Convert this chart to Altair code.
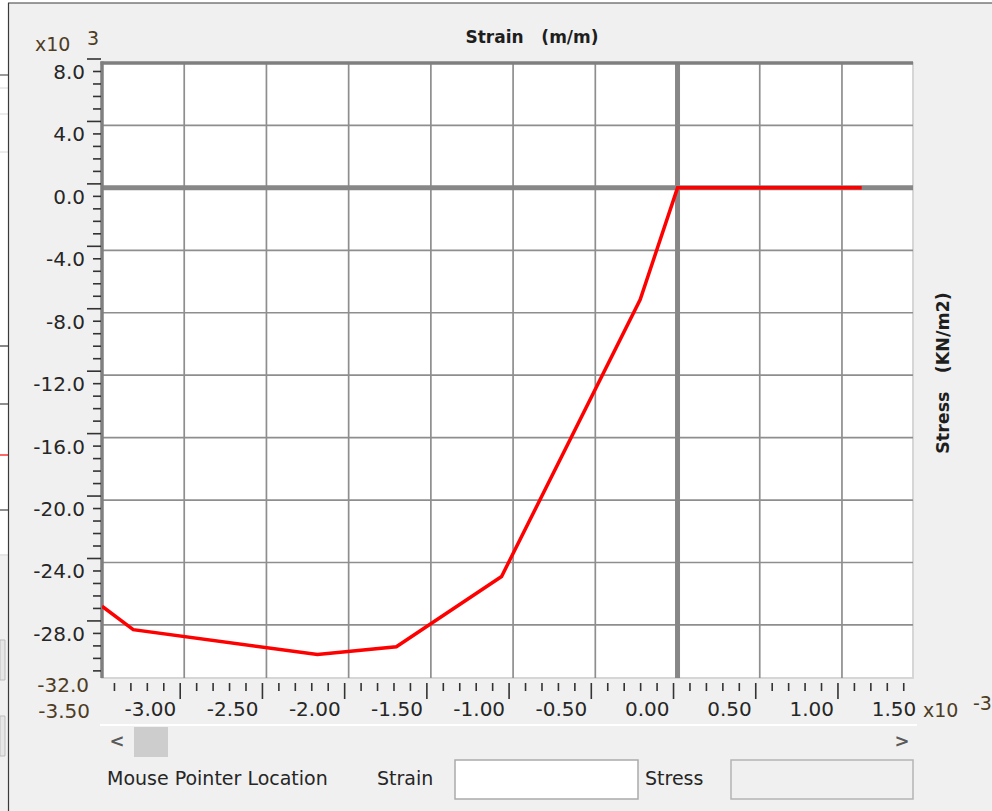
import altair as alt
import numpy as np
import pandas as pd

FONT = "DejaVu Sans"
TXT = "#262626"
TINT = "#4e3c24"
LABEL_SIZE = 20
UI_SIZE = 19

# Stress-strain curve: strain (x10^-3 m/m) vs stress (x10^3 KN/m2)
strain = [-3.50, -3.31, -2.19, -1.71, -1.07, -0.227, 0.00, 1.12]
stress = [-26.8, -28.3, -29.9, -29.4, -24.9, -7.15, 0.0, 0.0]

# grid and tick labels
x_grid = [-3.0, -2.5, -2.0, -1.5, -1.0, -0.5, 0.5, 1.0]
y_grid = [4.0, -4.0, -8.0, -12.0, -16.0, -20.0, -24.0, -28.0]
x_label_values = [-3.0, -2.5, -2.0, -1.5, -1.0, -0.5, 0.0, 0.5, 1.0, 1.5]
x_label_text = ["-3.00", "-2.50", "-2.00", "-1.50", "-1.00", "-0.50",
                "0.00", "0.50", "1.00", "1.50"]
y_label_values = [8.0, 4.0, 0.0, -4.0, -8.0, -12.0, -16.0, -20.0, -24.0, -28.0]
y_label_text = ["8.0", "4.0", "0.0", "-4.0", "-8.0", "-12.0", "-16.0",
                "-20.0", "-24.0", "-28.0"]

# ruler ticks: 0.1 steps along strain, 0.8 steps along stress
x_ticks = np.round(np.arange(-3.4, 1.45, 0.1), 1)
x_major = [v for v in x_ticks if abs(v * 2 - round(v * 2)) < 1e-6]
x_minor = [v for v in x_ticks if abs(v * 2 - round(v * 2)) >= 1e-6]
y_ticks = np.round(np.arange(8.0, -31.5, -0.8), 1)
y_major = [v for v in y_ticks if abs(v / 4 - round(v / 4)) < 1e-6]
y_minor = [v for v in y_ticks if abs(v / 4 - round(v / 4)) >= 1e-6]

W, H = 811, 615
LEFT, TOP = 102, 63

xs = alt.Scale(domain=[-3.5, 1.432], nice=False, zero=False)
ys = alt.Scale(domain=[-31.4, 8.0], nice=False, zero=False)


def X(field="v"):
    return alt.X(f"{field}:Q", scale=xs, axis=None)


def Y(field="v"):
    return alt.Y(f"{field}:Q", scale=ys, axis=None)


def one():
    return pd.DataFrame({"k": [0]})


def ui_text(text, x, y, size=UI_SIZE, weight="normal", align="left", color=TXT, angle=0):
    return alt.Chart(pd.DataFrame({"t": [text]})).mark_text(
        align=align, baseline="middle", font=FONT, fontSize=size,
        fontWeight=weight, color=color, angle=angle
    ).encode(x=alt.value(x - LEFT), y=alt.value(y - TOP), text="t:N")


def ui_rect(x0, y0, x1, y1, fill, stroke=None, sw=0):
    kw = {"fill": fill}
    if stroke:
        kw.update(stroke=stroke, strokeWidth=sw)
    return alt.Chart(one()).mark_rect(**kw).encode(
        x=alt.value(x0 - LEFT), x2=alt.value(x1 - LEFT),
        y=alt.value(y0 - TOP), y2=alt.value(y1 - TOP))


def ui_rule(x0, y0, x1, y1, color, sw):
    return alt.Chart(one()).mark_rule(color=color, strokeWidth=sw).encode(
        x=alt.value(x0 - LEFT), x2=alt.value(x1 - LEFT),
        y=alt.value(y0 - TOP), y2=alt.value(y1 - TOP))


GRID = "#8e8e8e"
THICK = "#878787"

# gridlines
vgrid = alt.Chart(pd.DataFrame({"v": x_grid})).mark_rule(
    color=GRID, strokeWidth=1.7).encode(x=X(), y=alt.value(0), y2=alt.value(H))
hgrid = alt.Chart(pd.DataFrame({"v": y_grid})).mark_rule(
    color=GRID, strokeWidth=1.7).encode(y=Y(), x=alt.value(0), x2=alt.value(W))

# zero axes and frame (top / left)
vzero = alt.Chart(pd.DataFrame({"v": [0.0]})).mark_rule(
    color=THICK, strokeWidth=5).encode(x=X(), y=alt.value(0), y2=alt.value(H))
hzero = alt.Chart(pd.DataFrame({"v": [0.0]})).mark_rule(
    color=THICK, strokeWidth=5).encode(y=Y(), x=alt.value(0), x2=alt.value(W))
top_frame = alt.Chart(pd.DataFrame({"v": [8.0]})).mark_rule(
    color="#7f7f7f", strokeWidth=3.5).encode(y=Y(), x=alt.value(-1.5), x2=alt.value(W))
left_frame = alt.Chart(pd.DataFrame({"v": [-3.5]})).mark_rule(
    color="#7f7f7f", strokeWidth=3.5).encode(x=X(), y=alt.value(-1.5), y2=alt.value(H))

# curve
curve = alt.Chart(pd.DataFrame({"strain": strain, "stress": stress})).mark_line(
    color="#ff0000", strokeWidth=3.5, clip=True
).encode(x=X("strain"), y=Y("stress"), order=alt.Order("strain:Q"))

# ruler ticks
TICK = "#333333"
xt_minor = alt.Chart(pd.DataFrame({"v": x_minor})).mark_rule(
    color=TICK, strokeWidth=1.6, xOffset=-4, x2Offset=-4).encode(
    x=X(), y=alt.value(620), y2=alt.value(628))
xt_major = alt.Chart(pd.DataFrame({"v": x_major})).mark_rule(
    color=TICK, strokeWidth=1.6, xOffset=-4, x2Offset=-4).encode(
    x=X(), y=alt.value(620), y2=alt.value(636))
yt_minor = alt.Chart(pd.DataFrame({"v": y_minor})).mark_rule(
    color=TICK, strokeWidth=1.6, yOffset=-4, y2Offset=-4).encode(
    y=Y(), x=alt.value(-9), x2=alt.value(-1))
yt_major = alt.Chart(pd.DataFrame({"v": y_major})).mark_rule(
    color=TICK, strokeWidth=1.6, yOffset=-4, y2Offset=-4).encode(
    y=Y(), x=alt.value(-15), x2=alt.value(-1))

# tick labels
xlab = alt.Chart(pd.DataFrame({"v": x_label_values, "t": x_label_text})).mark_text(
    align="right", baseline="middle", font=FONT, fontSize=LABEL_SIZE, color=TXT, dx=-8
).encode(x=X(), y=alt.value(647), text="t:N")
ylab = alt.Chart(pd.DataFrame({"v": y_label_values, "t": y_label_text})).mark_text(
    align="right", baseline="middle", font=FONT, fontSize=LABEL_SIZE, color=TXT, dy=10
).encode(y=Y(), x=alt.value(-17), text="t:N")
ymin_lab = alt.Chart(pd.DataFrame({"v": [-32.0], "t": ["-32.0"]})).mark_text(
    align="right", baseline="middle", font=FONT, fontSize=LABEL_SIZE, color=TINT, dy=-1
).encode(y=Y(), x=alt.value(-13), text="t:N")
xmin_lab = alt.Chart(pd.DataFrame({"v": [-3.5], "t": ["-3.50"]})).mark_text(
    align="right", baseline="middle", font=FONT, fontSize=LABEL_SIZE, color=TINT, dx=-12
).encode(x=X(), y=alt.value(649), text="t:N")

layers = [
    # window behind the dialog on the left edge
    ui_rect(0, 0, 992, 3, "#ffffff"),
    ui_rect(0, 0, 8, 556, "#ffffff"),
    ui_rule(0, 75, 8, 75, "#555555", 1.2),
    ui_rule(0, 88, 8, 88, "#d8d8d8", 1),
    ui_rule(0, 114, 8, 114, "#d8d8d8", 1),
    ui_rule(0, 152, 8, 152, "#d8d8d8", 1),
    ui_rule(0, 346, 8, 346, "#888888", 2),
    ui_rule(0, 404, 8, 404, "#444444", 1.2),
    ui_rule(0, 455, 8, 455, "#ff0000", 1.2),
    ui_rule(0, 510, 8, 510, "#444444", 1.2),
    ui_rule(0, 555, 8, 555, "#cccccc", 1),
    ui_rect(0, 640, 5, 680, "#e6e6e6", "#bdbdbd", 1),
    ui_rect(0, 716, 5, 756, "#e6e6e6", "#bdbdbd", 1),
    ui_rule(8.5, 3, 8.5, 811, "#3a3a3a", 1.2),
    ui_rule(8, 3, 992, 3, "#3a3a3a", 1.2),
    # plot contents
    vgrid, hgrid, vzero, hzero, top_frame, left_frame, curve,
    xt_minor, xt_major, yt_minor, yt_major,
    xlab, ylab, ymin_lab, xmin_lab,
    # exponents and titles
    ui_text("x10", 35, 45, color=TINT),
    ui_text("3", 87, 39, color=TINT),
    ui_text("x10", 923, 711, color=TINT),
    ui_text("-3", 973, 704, color=TINT),
    ui_text("Strain\u00a0\u00a0\u00a0(m/m)", 532, 38, size=17, weight="bold",
            align="center", color="#1e1e1e"),
    ui_text("Stress\u00a0\u00a0\u00a0(KN/m2)", 944, 373, size=17.5, weight="bold",
            align="center", color="#1e1e1e", angle=270),
    # scroll bar
    ui_rule(100, 725, 917, 725, "#ffffff", 2),
    ui_rect(134, 727, 168, 757, "#cdcdcd"),
    ui_text("<", 117, 742, size=18, weight="bold", align="center", color="#5a5a5a"),
    ui_text(">", 902, 742, size=18, weight="bold", align="center", color="#5a5a5a"),
    # pointer readout
    ui_text("Mouse Pointer Location", 107, 779),
    ui_text("Strain", 377, 779),
    ui_rect(455, 760, 638, 799, "#ffffff", "#ababab", 1.5),
    ui_text("Stress", 645, 779),
    ui_rect(731, 760, 913, 799, "#f0f0f0", "#b4b4b4", 1.5),
]

chart = alt.layer(*layers).properties(
    width=W, height=H,
    padding={"left": LEFT, "top": TOP, "right": 992 - LEFT - W, "bottom": 811 - TOP - H},
    autosize=alt.AutoSizeParams(type="none"),
    background="#f0f0f0",
).configure_view(fill="#ffffff", stroke="#d6d6d6", strokeWidth=2)

chart.save("out.html", embed_options={"renderer": "svg", "actions": False})
